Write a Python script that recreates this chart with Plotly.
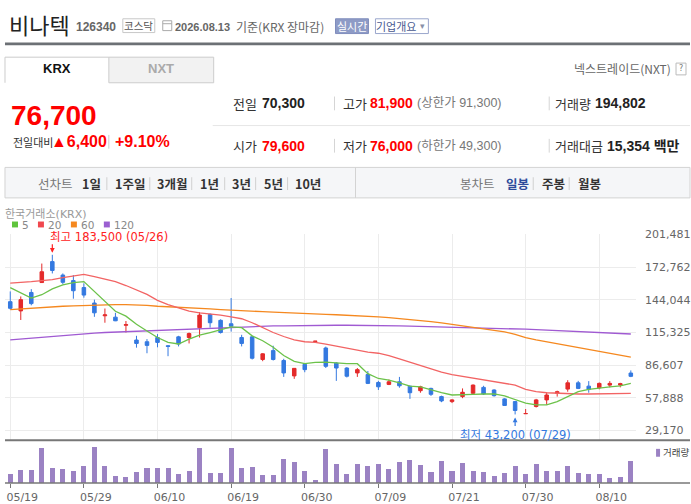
import plotly.graph_objects as go

W, H = 691, 504

# trading days shown on the chart (2026)
dates = ["05/19", "05/20", "05/21", "05/22", "05/26", "05/27", "05/28", "05/29",
         "06/01", "06/02", "06/04", "06/05", "06/08", "06/09", "06/10", "06/11",
         "06/12", "06/15", "06/16", "06/17", "06/18", "06/19",
         "06/22", "06/23", "06/24", "06/25", "06/26", "06/29", "06/30",
         "07/01", "07/02", "07/03", "07/06", "07/07", "07/08", "07/09", "07/10",
         "07/13", "07/14", "07/15", "07/16", "07/20", "07/21",
         "07/22", "07/23", "07/24", "07/27", "07/28", "07/29", "07/30", "07/31",
         "08/03", "08/04", "08/05", "08/06", "08/07", "08/10", "08/11", "08/12", "08/13"]

opens = [142300, 134200, 150400, 159100, 177500, 165700, 160800, 154700, 141100, 129900,
         128700, 121600, 108600, 107100, 110800, 103600, 111400, 110800, 119500, 131100,
         125900, 122900, 110800, 111400, 91500, 99300, 90600, 77100, 87200, 107300,
         101600, 88300, 84000, 79700, 78300, 71300, 69600, 71900, 68100, 64100,
         66100, 58900, 54500, 58900, 61800, 67000, 64700, 56900, 54500, 43900,
         50200, 56000, 61800, 65500, 71000, 68100, 66700, 69000, 69000, 79600]
highs = [151300, 146900, 153300, 175800, 183500, 167100, 165700, 158400, 144100, 136300,
         132500, 125300, 112300, 109400, 113800, 104200, 112300, 115200, 133100, 132000,
         126800, 145500, 113200, 112300, 97000, 103600, 92100, 83700, 87800, 107700,
         102800, 89200, 84800, 84000, 81400, 72700, 73900, 76200, 68400, 68400,
         66700, 59700, 56600, 66100, 69600, 68400, 65300, 57500, 55100, 48000,
         56900, 62700, 64100, 73300, 72700, 72500, 71300, 72500, 71000, 81900]
lows = [135400, 126200, 139100, 158900, 167100, 157600, 144900, 145800, 129000, 123800,
        125200, 115200, 101900, 97000, 102200, 94400, 103000, 105600, 110800, 119500,
        114300, 116000, 103000, 91500, 90000, 90600, 76200, 74500, 80300, 107300,
        84000, 72700, 75700, 76200, 69900, 64700, 69000, 66700, 56900, 62300,
        59500, 54000, 53200, 57500, 61200, 60300, 58900, 50800, 43200, 43900,
        49300, 51700, 58900, 63200, 65500, 62300, 65300, 67000, 67000, 76000]
closes = [136500, 144100, 140600, 168600, 169700, 159300, 151900, 148100, 132500, 130700,
          125500, 122100, 105600, 103900, 106500, 103000, 105100, 114300, 130500, 123800,
          115200, 120700, 105600, 92600, 96500, 91500, 79700, 83700, 82600, 107600,
          85500, 84000, 76800, 82600, 70500, 67500, 71900, 68400, 62300, 67500,
          60900, 55100, 56000, 62700, 69000, 61200, 59700, 51100, 46700, 44000,
          56000, 60300, 63200, 71000, 66100, 65300, 70500, 70500, 70300, 76700]

ma5 = [154700, 149800, 145500, 148400, 153600, 157100, 159100, 159900, 151300, 142600,
       133900, 129600, 122400, 116600, 110800, 106500, 105100, 109400, 112900, 115200,
       117500, 120100, 119500, 112300, 108000, 102200, 95000, 89800, 87800, 88900,
       89200, 88300, 87800, 87800, 79100, 74800, 73300, 71000, 68100, 67500,
       64700, 62300, 60300, 60300, 60900, 61200, 61200, 59500, 56600, 53200,
       51700, 51700, 54500, 58900, 63200, 65300, 66100, 67500, 68400, 70500]
ma20 = [158600, 159100, 159900, 160800, 161700, 163400, 164700, 166200, 164300, 162100,
        159900, 156500, 152700, 148700, 143500, 139700, 136800, 133900, 132500, 131600,
        130500, 129000, 127300, 123800, 119500, 115200, 111700, 108800, 107100, 106500,
        105100, 103200, 101500, 99300, 98000, 97000, 95000, 92100, 89200, 86300,
        83500, 80500, 78300, 76800, 75300, 73900, 72500, 70700, 69000, 65300,
        63200, 62300, 61800, 61500, 61200, 61200, 61200, 61500, 61600, 61800]
ma60 = [135400, 136100, 136700, 137400, 137800, 138300, 138700, 139100, 139400, 139600,
        139700, 139700, 139600, 139100, 138300, 137700, 137200, 136800, 136400, 135900,
        135400, 134800, 134400, 133900, 133500, 133100, 132600, 132200, 131800, 131500,
        131200, 130800, 130500, 130000, 129600, 129000, 128300, 127500, 126600, 125700,
        124700, 123600, 122300, 121000, 119700, 118400, 117100, 115800, 113600, 110800,
        108800, 107100, 105400, 103600, 101900, 100200, 98200, 96300, 95000, 93500]
ma120 = [108800, 109600, 110400, 111200, 112000, 112700, 113500, 114300, 114700, 115200,
         115600, 115900, 116300, 116600, 117000, 117400, 117800, 118300, 118700, 119100,
         119600, 119900, 120300, 120500, 120800, 121000, 121100, 121300, 121500, 121600,
         121600, 121600, 121600, 121600, 121500, 121300, 121100, 121000, 120800, 120600,
         120400, 120300, 120100, 119800, 119600, 119200, 119000, 118700, 118400, 118100,
         117700, 117300, 116900, 116500, 116100, 115800, 115300, 114900, 114400, 113900]

volumes = [81200, 116200, 118000, 308300, 133600, 124900, 107400, 151100, 317100, 150000,
           63800, 55000, 98700, 133600, 134000, 133000, 81200, 107400, 308300, 90000,
           90000, 308300, 133600, 142400, 72500, 72500, 212300, 186100, 107400, 20100,
           299600, 168600, 81200, 168600, 145000, 168600, 124900, 186100, 203500, 159900,
           98700, 194800, 107400, 177300, 107400, 98700, 63800, 90000, 151100, 81200,
           168600, 107400, 107400, 151100, 90000, 81200, 81200, 46300, 55000, 194802]

tick_labels = ["05/19", "05/29", "06/10", "06/19", "06/30", "07/09", "07/21", "07/30", "08/10"]
price_ticks = [29170, 57888, 86607, 115325, 144044, 172762, 201481]

ma_names = ["5", "20", "60", "120"]
ma_colors = ["#6cc24a", "#f26464", "#f5881f", "#a05ad2"]
legend_colors = ["#5fc43c", "#f0484e", "#f5881f", "#9b5fd1"]
RED, BLUE, VOLC = "#e42a2a", "#3479e0", "#9b82c3"
KR = "Noto Sans CJK KR"
NUM = "Liberation Sans, Noto Sans CJK KR"
AX = "DejaVu Sans, Noto Sans CJK KR"


def px(x):
    return x / W


def py(y):
    return 1 - y / H


shapes = []
annotations = []


def rect(x0, y0, x1, y1, line=None, fill=None, lw=1):
    shapes.append(dict(type="rect", xref="paper", yref="paper",
                       x0=px(x0), x1=px(x1), y0=py(y0), y1=py(y1),
                       line=dict(color=line or "rgba(0,0,0,0)", width=lw if line else 0),
                       fillcolor=fill or "rgba(0,0,0,0)", layer="below"))


def seg(x0, y0, x1, y1, color="#d5d5d5", lw=1):
    shapes.append(dict(type="line", xref="paper", yref="paper",
                       x0=px(x0), x1=px(x1), y0=py(y0), y1=py(y1),
                       line=dict(color=color, width=lw)))


def label(x, y, text, size=12, color="#333", family=KR, anchor="left"):
    annotations.append(dict(x=px(x), y=py(y), xref="paper", yref="paper", text=text,
                            showarrow=False, xanchor=anchor, yanchor="middle", borderpad=0,
                            font=dict(size=size, color=color, family=family)))


# ---- header ----
label(8, 18, "비나텍", 22, "#222")
label(75, 21, "<b>126340</b>", 12, "#666", NUM)
rect(123, 13, 155, 27, line="#c8c8c8", fill="white")
label(139, 20, "코스닥", 10.5, "#555", anchor="center")
rect(163, 15, 172, 25, line="#aaaaaa")
seg(163, 18, 172, 18, "#aaaaaa")
label(174, 21, "<b>2026.08.13</b>", 11, "#666", NUM)
label(235, 20.5, "기준(KRX 장마감)", 12, "#666")
rect(336, 13, 369, 28, line="#7f8dbd", fill="#8e9bc6")
label(352.5, 20.5, "실시간", 11, "white", anchor="center")
rect(376, 13, 429, 28, line="#9aa6cc", fill="white")
label(397, 20.5, "기업개요", 11, "#4a5a90", anchor="center")
label(423, 20.5, "▾", 9, "#8890a8", AX, anchor="center")
rect(5, 37, 691, 40, fill="#6c7075")

# tabs
seg(5, 52, 5, 78, "#cccccc")
seg(5, 52, 109, 52, "#cccccc")
rect(109, 52, 214, 78, line="#cccccc", fill="#f2f2f2")
label(57, 64, "<b>KRX</b>", 13, "#111", NUM, anchor="center")
label(161, 64, "<b>NXT</b>", 13, "#aaaaaa", NUM, anchor="center")
label(673, 64, "넥스트레이드(NXT)", 12, "#666", anchor="right")
rect(677, 58, 687, 70, line="#bbbbbb")
label(682, 64, "?", 8, "#777", AX, anchor="center")

# current price block
label(10, 111, "<b>76,700</b>", 28, "#ff0000", NUM)
label(12, 138, "전일대비", 11, "#333")
label(50, 138, "<b>▲6,400</b>", 16, "#ff0000", NUM)
seg(109, 131, 109, 145, "#cccccc")
label(114, 138, "<b>+9.10%</b>", 16, "#ff0000", NUM)

# info grid
rows = [
    (99, [("전일", "70,300", "#222"), ("고가", "81,900", "#ff0000"), ("거래량", "194,802", "#222")],
     "(상한가 91,300)"),
    (142, [("시가", "79,600", "#ff0000"), ("저가", "76,000", "#ff0000"), ("거래대금", "15,354 백만", "#222")],
     "(하한가 49,300)"),
]
for ry, cells, limit in rows:
    (n1, v1, c1), (n2, v2, c2), (n3, v3, c3) = cells
    label(232, ry, n1, 13, "#333")
    label(261, ry, "<b>%s</b>" % v1, 14, c1, NUM)
    seg(335, ry - 7, 335, ry + 7, "#d5d5d5")
    label(342, ry, n2, 13, "#333")
    label(370, ry, "<b>%s</b>" % v2, 14, c2, NUM)
    label(417, ry, limit, 12.5, "#777", NUM)
    seg(550, ry - 7, 550, ry + 7, "#d5d5d5")
    label(555, ry, n3, 13, "#333")
    label(595 if n3 == "거래량" else 607, ry, "<b>%s</b>" % v3, 14, c3, NUM)
seg(213, 121.5, 691, 121.5, "#e6e6e6")

# period bar
rect(5, 164, 691, 195, line="#d3d3d3", fill="#f5f6f8")
seg(356, 164, 356, 195, "#d3d3d3")
label(37, 180, "선차트", 12.5, "#777")
for x, t in [(81, "1일"), (114, "1주일"), (156, "3개월"), (199, "1년"),
             (231, "3년"), (263, "5년"), (294, "10년")]:
    label(x, 180, "<b>%s</b>" % t, 12.5, "#333")
for x in [107, 150, 192, 225, 256, 288, 534, 570]:
    seg(x, 174, x, 187, "#d0d0d0")
label(460, 180, "봉차트", 12.5, "#777")
label(506, 180, "<b>일봉</b>", 12.5, "#2d4b9b")
label(542, 180, "<b>주봉</b>", 12.5, "#333")
label(578, 180, "<b>월봉</b>", 12.5, "#333")

# chart legend
label(4, 211.5, "한국거래소(KRX)", 11, "#999", AX)
for (sx, tx), name, col in zip([(12, 21), (38, 47), (71, 80), (104, 113)], ma_names, legend_colors):
    rect(sx, 219, sx + 6, 225, fill=col)
    label(tx, 223, name, 10.5, "#888", AX)

# pane separators
seg(5, 441.3, 691, 441.3, "#777777", 2)
seg(5, 484.7, 691, 484.7, "#777777", 1.5)
rect(657, 450, 661, 458, fill=VOLC)
label(662.5, 454, "거래량", 9.5, "#444", AX)

fig = go.Figure()

fig.add_trace(go.Candlestick(
    x=dates, open=opens, high=highs, low=lows, close=closes,
    increasing=dict(line=dict(color=RED, width=1), fillcolor=RED),
    decreasing=dict(line=dict(color=BLUE, width=1), fillcolor=BLUE),
    whiskerwidth=0, showlegend=False, xaxis="x", yaxis="y"))

for vals, name, col in zip([ma120, ma60, ma20, ma5], ma_names[::-1], ma_colors[::-1]):
    fig.add_trace(go.Scatter(x=dates, y=vals, mode="lines", name=name,
                             line=dict(color=col, width=1.3), showlegend=False,
                             xaxis="x", yaxis="y"))

fig.add_trace(go.Bar(x=dates, y=volumes, marker=dict(color=VOLC, line=dict(width=0)),
                     width=0.48, showlegend=False, xaxis="x2", yaxis="y2"))

# high / low marks
hi_i = highs.index(max(highs))
lo_i = lows.index(min(lows))
annotations.append(dict(x=dates[hi_i], y=highs[hi_i], xref="x", yref="y",
                        text="최고 {:,} ({})".format(highs[hi_i], dates[hi_i]),
                        showarrow=False, xanchor="left", yanchor="middle",
                        xshift=-4, yshift=18, font=dict(size=11.5, color="#f22", family=AX)))
annotations.append(dict(x=dates[hi_i], y=highs[hi_i], xref="x", yref="y", text="",
                        showarrow=True, ax=0, ay=-12, arrowhead=2, arrowsize=0.8,
                        arrowwidth=1.2, arrowcolor="#f22", standoff=2))
annotations.append(dict(x=dates[lo_i], y=lows[lo_i], xref="x", yref="y",
                        text="최저 {:,} ({})".format(lows[lo_i], dates[lo_i]),
                        showarrow=False, xanchor="center", yanchor="middle",
                        yshift=-21, font=dict(size=11.5, color="#3479e0", family=AX)))
annotations.append(dict(x=dates[lo_i], y=lows[lo_i], xref="x", yref="y", text="",
                        showarrow=True, ax=0, ay=13, arrowhead=2, arrowsize=0.8,
                        arrowwidth=1.2, arrowcolor="#3479e0", standoff=3))

fig.update_layout(
    width=W, height=H, margin=dict(l=0, r=0, t=0, b=0),
    paper_bgcolor="white", plot_bgcolor="white",
    boxgap=0.52, bargap=0, showlegend=False,
    shapes=shapes, annotations=annotations,
    xaxis=dict(domain=[px(5), px(637)], type="category", categoryorder="array",
               categoryarray=dates, range=[-0.5, len(dates) - 0.5],
               tickvals=tick_labels, showticklabels=False, ticks="",
               showgrid=True, gridcolor="#ececec", gridwidth=1, zeroline=False,
               rangeslider=dict(visible=False), anchor="y", fixedrange=True),
    yaxis=dict(domain=[py(441.3), py(232)], range=[20508, 201481], side="right",
               tickvals=price_ticks, tickformat=",", showgrid=True, gridcolor="#ececec",
               zeroline=False, ticks="", ticklabelstandoff=8,
               tickfont=dict(family=AX, size=11, color="#666"), anchor="x"),
    xaxis2=dict(domain=[px(5), px(637)], type="category", categoryorder="array",
                categoryarray=dates, range=[-0.5, len(dates) - 0.5], matches="x",
                tickvals=tick_labels, ticks="outside", ticklen=4, tickcolor="#777",
                ticklabelshift=12, showgrid=False, zeroline=False, showline=False,
                tickfont=dict(family=AX, size=11, color="#666"), anchor="y2"),
    yaxis2=dict(domain=[py(484.7), py(441.3)], range=[0, 381700], showticklabels=False,
                showgrid=False, zeroline=False, ticks="", anchor="x2"),
)

# the page body has a default margin; drop it so the figure fills the window
fig.write_html("out.html", config={"displayModeBar": False},
               post_script="document.body.style.margin='0px';")
